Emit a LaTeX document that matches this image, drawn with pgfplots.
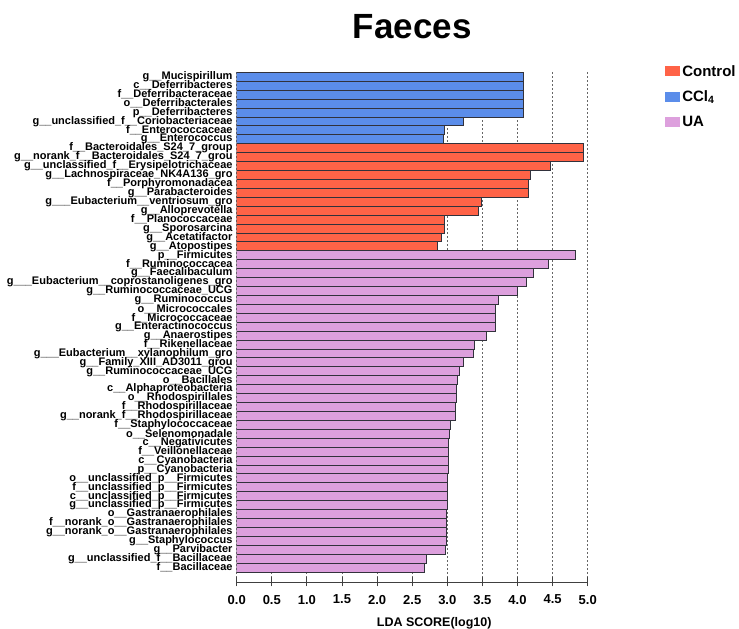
\documentclass[border=0pt]{standalone}
\usepackage{pgfplots}
\pgfplotsset{compat=1.18}
\usepackage{fontspec}
\setmainfont{Liberation Sans}
\definecolor{cctrl}{RGB}{255,99,71}
\definecolor{cccl}{RGB}{91,141,234}
\definecolor{cua}{RGB}{221,160,221}
\definecolor{edge}{RGB}{50,50,60}
\begin{document}
\begin{tikzpicture}
\useasboundingbox (0,0) rectangle (739pt,629pt);
\begin{axis}[
  at={(236.7pt,47pt)}, anchor=south west,
  scale only axis, width=351pt, height=509.7pt,
  xmin=0, xmax=5, ymin=-0.62, ymax=56.5,
  xbar, bar width=1, bar shift=0pt,
  axis x line*=bottom, axis y line*=left,
  y axis line style={draw=none}, ytick style={draw=none},
  x axis line style={draw=black!75, line width=0.9pt},
  xtick={0,0.5,...,5}, xtick align=center, major tick length=9pt,
  xtick style={draw=black!75, line width=0.9pt},
  xmajorgrids, grid style={gray!80!black, line width=0.9pt, dash pattern=on 2pt off 2pt},
  /pgf/number format/assume math mode=true,
  xticklabel style={font=\bfseries\fontsize{13}{14}\selectfont, yshift=-5pt, /pgf/number format/.cd, fixed, fixed zerofill, precision=1},
  xlabel={LDA SCORE(log10)},
  xlabel style={font=\bfseries\fontsize{12.5}{13}\selectfont, xshift=22pt, yshift=-6pt},
  title={Faeces},
  title style={font=\bfseries\fontsize{35}{37}\selectfont, at={(0.5,1)}, anchor=base, yshift=28pt},
  ytick={1,...,56},
  yticklabel style={font=\bfseries\fontsize{11}{11}\selectfont, inner sep=1pt, xshift=6pt},
  yticklabels={
    f\_\_Bacillaceae,
    g\_\_unclassified\_f\_\_Bacillaceae,
    g\_\_Parvibacter,
    g\_\_Staphylococcus,
    g\_\_norank\_o\_\_Gastranaerophilales,
    f\_\_norank\_o\_\_Gastranaerophilales,
    o\_\_Gastranaerophilales,
    g\_\_unclassified\_p\_\_Firmicutes,
    c\_\_unclassified\_p\_\_Firmicutes,
    f\_\_unclassified\_p\_\_Firmicutes,
    o\_\_unclassified\_p\_\_Firmicutes,
    p\_\_Cyanobacteria,
    c\_\_Cyanobacteria,
    f\_\_Veillonellaceae,
    c\_\_Negativicutes,
    o\_\_Selenomonadale,
    f\_\_Staphylococcaceae,
    g\_\_norank\_f\_\_Rhodospirillaceae,
    f\_\_Rhodospirillaceae,
    o\_\_Rhodospirillales,
    c\_\_Alphaproteobacteria,
    o\_\_Bacillales,
    g\_\_Ruminococcaceae\_UCG,
    g\_\_Family\_XIII\_AD3011\_grou,
    g\_\_\_Eubacterium\_\_xylanophilum\_gro,
    f\_\_Rikenellaceae,
    g\_\_Anaerostipes,
    g\_\_Enteractinococcus,
    f\_\_Micrococcaceae,
    o\_\_Micrococcales,
    g\_\_Ruminococcus,
    g\_\_Ruminococcaceae\_UCG,
    g\_\_\_Eubacterium\_\_coprostanoligenes\_gro,
    g\_\_Faecalibaculum,
    f\_\_Ruminococcacea,
    p\_\_Firmicutes,
    g\_\_Atopostipes,
    g\_\_Acetatifactor,
    g\_\_Sporosarcina,
    f\_\_Planococcaceae,
    g\_\_Alloprevotella,
    g\_\_\_Eubacterium\_\_ventriosum\_gro,
    g\_\_Parabacteroides,
    f\_\_Porphyromonadacea,
    g\_\_Lachnospiraceae\_NK4A136\_gro,
    g\_\_unclassified\_f\_\_Erysipelotrichaceae,
    g\_\_norank\_f\_\_Bacteroidales\_S24\_7\_grou,
    f\_\_Bacteroidales\_S24\_7\_group,
    g\_\_Enterococcus,
    f\_\_Enterococcaceae,
    g\_\_unclassified\_f\_\_Coriobacteriaceae,
    p\_\_Deferribacteres,
    o\_\_Deferribacterales,
    f\_\_Deferribacteraceae,
    c\_\_Deferribacteres,
    g\_\_Mucispirillum},
  legend style={at={(1.212,1.022)}, anchor=north west, draw=none, fill=none,
    font=\bfseries\fontsize{15}{17}\selectfont, row sep=9pt,
    /tikz/every even column/.append style={column sep=5pt}},
  legend cell align=left,
  legend image code/.code={\path[#1, draw=none] (0pt,-5pt) rectangle (15pt,5pt);},
]
\addplot[fill=cctrl, draw=edge, line width=0.7pt] coordinates {
 (4.94,48) (4.94,47) (4.47,46) (4.19,45) (4.15,44) (4.15,43)
 (3.48,42) (3.44,41) (2.96,40) (2.96,39) (2.92,38) (2.86,37)};
\addlegendentry{Control}
\addplot[fill=cccl, draw=edge, line width=0.7pt] coordinates {
 (4.08,56) (4.08,55) (4.08,54) (4.08,53) (4.08,52) (3.23,51) (2.96,50) (2.95,49)};
\addlegendentry{CCl\textsubscript{4}}
\addplot[fill=cua, draw=edge, line width=0.7pt] coordinates {
 (4.83,36) (4.44,35) (4.23,34) (4.13,33) (4.00,32) (3.73,31) (3.69,30) (3.69,29)
 (3.69,28) (3.55,27) (3.38,26) (3.37,25) (3.23,24) (3.17,23) (3.15,22) (3.13,21)
 (3.13,20) (3.12,19) (3.12,18) (3.04,17) (3.03,16) (3.02,15) (3.02,14) (3.01,13)
 (3.01,12) (3.00,11) (3.00,10) (3.00,9) (3.00,8) (2.99,7) (2.99,6) (2.99,5)
 (2.98,4) (2.97,3) (2.70,2) (2.68,1)};
\addlegendentry{UA}
\end{axis}
\end{tikzpicture}
\end{document}
